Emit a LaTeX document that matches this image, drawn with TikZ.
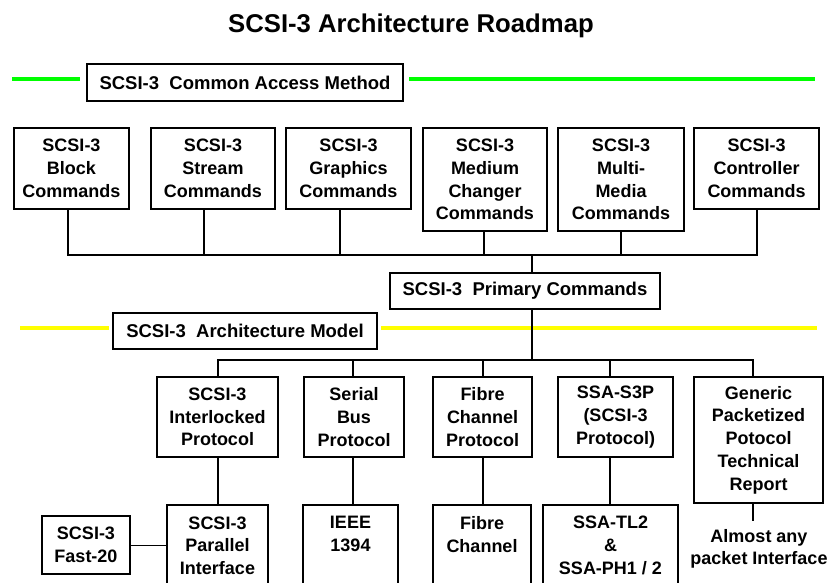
\documentclass[tikz,border=0pt]{standalone}
\usepackage{fontspec}
\setmainfont{Liberation Sans}
\begin{document}
\begin{tikzpicture}[x=1pt,y=-1pt,
  box/.style={draw, line width=2pt, fill=white, align=center, inner sep=0pt,
    font=\fontsize{18}{22.7}\selectfont\bfseries},
  banner/.style={draw, line width=2pt, fill=white, align=center, inner sep=0pt,
    font=\fontsize{18.5}{22}\selectfont\bfseries},
  conn/.style={line width=2pt},
  thinconn/.style={line width=1pt},
  greenbar/.style={line width=4.5pt, draw=barGreen},
  yellowbar/.style={line width=4.5pt, draw=barYellow},
  lbl/.style={align=center, inner sep=0pt, font=\fontsize{18}{22}\selectfont\bfseries}
]
\definecolor{barGreen}{HTML}{00FF00}
\definecolor{barYellow}{HTML}{FFFF00}
\clip (0,0) rectangle (830,583);
\fill[white] (0,0) rectangle (830,583);

% title
\node[anchor=base, inner sep=0pt, font=\fontsize{25.7}{30}\selectfont\bfseries] (title) at (411,33) {SCSI-3 Architecture Roadmap};

% banners
\node[banner, minimum width=316, minimum height=37] (cam) at (245,82.5) {SCSI-3\ \ Common Access Method};
\node[banner, minimum width=270, minimum height=36] (prim) at (525,291) {SCSI-3\ \ Primary Commands};
\node[banner, minimum width=264, minimum height=36] (arch) at (245,331) {SCSI-3\ \ Architecture Model};

% top row
\node[box, minimum width=115, minimum height=81] (b1) at (71.5,168.5) {SCSI-3\\Block\\Commands};
\node[box, minimum width=124, minimum height=81] (b2) at (213,168.5) {SCSI-3\\Stream\\Commands};
\node[box, minimum width=125, minimum height=81] (b3) at (348.5,168.5) {SCSI-3\\Graphics\\Commands};
\node[box, minimum width=124, minimum height=103] (b4) at (485,179.5) {SCSI-3\\Medium\\Changer\\Commands};
\node[box, minimum width=126, minimum height=103] (b5) at (621,179.5) {SCSI-3\\Multi-\\Media\\Commands};
\node[box, minimum width=125, minimum height=81] (b6) at (756.5,168.5) {SCSI-3\\Controller\\Commands};

% protocol row
\node[box, minimum width=121, minimum height=80] (i1) at (217.5,417) {SCSI-3\\Interlocked\\Protocol};
\node[box, minimum width=100, minimum height=80] (i2) at (354,417) {Serial\\Bus\\Protocol};
\node[box, minimum width=99, minimum height=80] (i3) at (482.5,417) {Fibre\\Channel\\Protocol};
\node[box, minimum width=115, minimum height=80] (i4) at (615.5,417) {SSA-S3P\\(SCSI-3\\Protocol)};
\node[box, minimum width=129, minimum height=126] (i5) at (758.5,440) {Generic\\Packetized\\Potocol\\Technical\\Report};

% interface row
\node[box, minimum width=101, minimum height=81] (p1) at (217.5,545.5) {SCSI-3\\Parallel\\Interface};
\node[box, minimum width=95, minimum height=81] (p2) at (350.5,545.5) {IEEE\\1394\\~};
\node[box, minimum width=98, minimum height=81] (p3) at (482,545.5) {Fibre\\Channel\\~};
\node[box, minimum width=135, minimum height=81] (p4) at (610.5,545.5) {SSA-TL2\\\&\\SSA-PH1 / 2};
\node[box, minimum width=88, minimum height=58] (fast) at (86,545) {SCSI-3\\Fast-20};
\node[lbl] (almost) at (759,549) {Almost any\\packet Interface};

% coloured bars
\coordinate (gL) at (12,79);
\coordinate (gR) at (815,79);
\draw[greenbar] (gL) -- ([xshift=-6]cam.west |- gL);
\draw[greenbar] ([xshift=5]cam.east |- gR) -- (gR);
\coordinate (yL) at (20,328);
\coordinate (yR) at (817,328);
\draw[yellowbar] (yL) -- ([xshift=-3]arch.west |- yL);
\draw[yellowbar] ([xshift=3]arch.east |- yR) -- (yR);

% connectors, command set bus
\coordinate (tb) at (532,255);
\coordinate (lb) at (532,360);
\draw[conn] ([xshift=-3.5]b1.south) |- (tb) -| ([xshift=0.5]b6.south);
\draw[conn] ([xshift=-9]b2.south) -- ([xshift=-9]b2.south |- tb);
\draw[conn] ([xshift=-8.5]b3.south) -- ([xshift=-8.5]b3.south |- tb);
\draw[conn] ([xshift=-1]b4.south) -- ([xshift=-1]b4.south |- tb);
\draw[conn] (b5.south) -- (b5.south |- tb);
\draw[conn] (tb) -- (tb |- prim.north);
\draw[conn] (tb |- prim.south) -- (lb);

% protocol bus
\draw[conn] (i1.north) |- (lb) -| ([xshift=-5.5]i5.north);
\draw[conn] ([xshift=-1]i2.north) -- ([xshift=-1]i2.north |- lb);
\draw[conn] (i3.north) -- (i3.north |- lb);
\draw[conn] ([xshift=-6]i4.north) -- ([xshift=-6]i4.north |- lb);

% protocol to interface
\draw[conn] (i1.south) -- (i1.south |- p1.north);
\draw[conn] ([xshift=-1]i2.south) -- ([xshift=-1]i2.south |- p2.north);
\draw[conn] (i3.south) -- (i3.south |- p3.north);
\draw[conn] ([xshift=-6]i4.south) -- ([xshift=-6]i4.south |- p4.north);
\coordinate (gend) at (753,521);
\draw[conn] ([xshift=-5.5]i5.south) -- ([xshift=-5.5]i5.south |- gend);
\draw[thinconn] (fast.east) -- (fast.east -| p1.west);
\end{tikzpicture}
\end{document}
